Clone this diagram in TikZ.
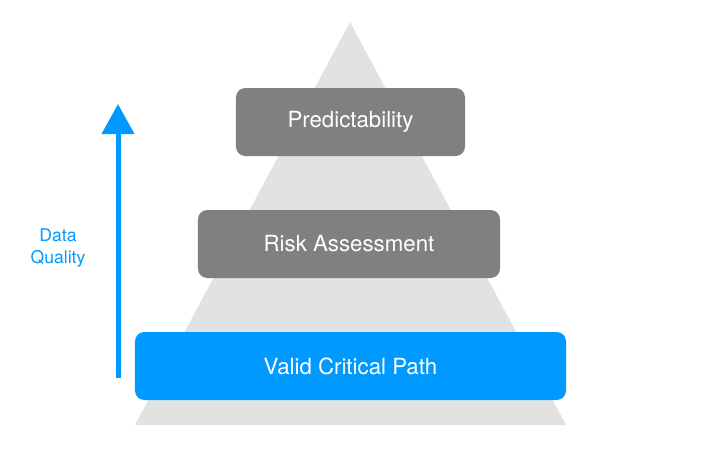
\documentclass[tikz,border=0pt]{standalone}
\usepackage{fontspec}
\setmainfont{TeX Gyre Heros}
\usetikzlibrary{arrows.meta, positioning}

\definecolor{pyrgray}{HTML}{E1E2E1}
\definecolor{boxgray}{HTML}{7E817F}
\definecolor{boxblue}{HTML}{0099FF}

\tikzset{
  level/.style={rounded corners=8pt, minimum height=2.04cm, text=white,
                font=\fontsize{19}{22}\selectfont, inner sep=0pt},
}

\begin{document}
\begin{tikzpicture}[x=0.03cm, y=-0.03cm]
        \useasboundingbox[fill=white] (0,0) rectangle (707,471);

        \fill[pyrgray] (350,22) -- (566,425) -- (135,425) -- cycle;

        \node[level, fill=boxgray, minimum width=6.87cm] (top) at (350.5,122) {Predictability};
        \node[level, fill=boxgray, minimum width=9.06cm] (mid) at (349,244) {Risk Assessment};
        \node[level, fill=boxblue, minimum width=12.93cm] (base) at (350.5,366) {Valid Critical Path};

        \coordinate (from) at (118,378);
        \coordinate (to) at (118,104);
        \draw[boxblue, line width=0.15cm, -{Triangle[width=0.95cm,length=0.9cm]}] (from) -- (to);

        \node[text=boxblue, font=\fontsize{15}{18}\selectfont, align=center] (dq) at (58,248) {Data\\Quality};
\end{tikzpicture}
\end{document}
